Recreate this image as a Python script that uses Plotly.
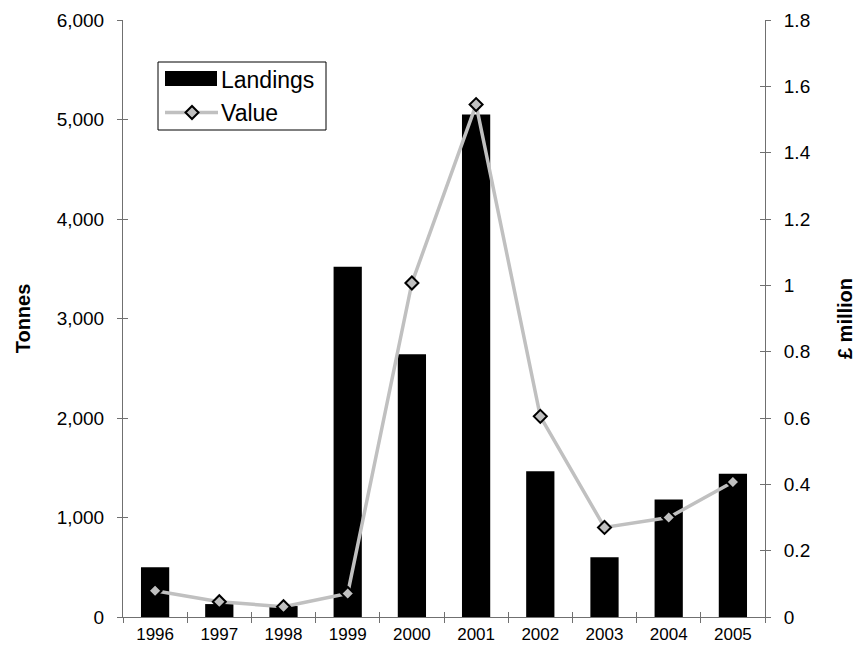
import plotly.graph_objects as go

# Annual landings (tonnes) and first-sale value (£ million)
years = ["1996", "1997", "1998", "1999", "2000", "2001", "2002", "2003", "2004", "2005"]
landings = [500, 130, 110, 3520, 2640, 5050, 1465, 600, 1180, 1440]
value = [0.079, 0.046, 0.031, 0.071, 1.007, 1.545, 0.605, 0.27, 0.30, 0.407]

left_ticks = [0, 1000, 2000, 3000, 4000, 5000, 6000]
right_ticks = [0, 0.2, 0.4, 0.6, 0.8, 1.0, 1.2, 1.4, 1.6, 1.8]

FONT = "Liberation Sans, Arial, sans-serif"
AXIS = "#707070"
GREY = "#c0c0c0"

W, H = 856, 654
L, R, T, B = 123, 91, 20, 37
PW, PH = W - L - R, H - T - B


def px(x, y):
    """Pixel position -> paper coordinates."""
    return (x - L) / PW, (H - B - y) / PH


fig = go.Figure()

fig.add_trace(go.Bar(
    x=years, y=landings, name="Landings", width=0.44,
    marker=dict(color="black", line=dict(width=0)),
    yaxis="y", showlegend=False,
))
fig.add_trace(go.Scatter(
    x=years, y=value, name="Value", mode="lines+markers",
    line=dict(color=GREY, width=3.5),
    marker=dict(symbol="diamond", size=10, color=GREY,
                line=dict(color="black", width=2)),
    yaxis="y2", showlegend=False,
))
# invisible traces carrying the inward half of the crossing tick marks
fig.add_trace(go.Scatter(x=years, y=landings, xaxis="x2", yaxis="y3",
                         mode="markers", marker=dict(opacity=0),
                         hoverinfo="skip", showlegend=False))
fig.add_trace(go.Scatter(x=years, y=value, xaxis="x2", yaxis="y4",
                         mode="markers", marker=dict(opacity=0),
                         hoverinfo="skip", showlegend=False))

tickfont = dict(family=FONT, size=19, color="black")
common_y = dict(showgrid=False, zeroline=False, ticklen=5, tickwidth=1,
                tickcolor=AXIS, tickfont=tickfont, ticklabelstandoff=9,
                automargin=False)

fig.update_layout(
    width=W, height=H,
    margin=dict(l=L, r=R, t=T, b=B),
    paper_bgcolor="white", plot_bgcolor="white",
    font=dict(family=FONT, color="black"),
    xaxis=dict(type="category", categoryorder="array", categoryarray=years,
               range=[-0.5, 9.5], tickson="boundaries", ticks="outside",
               ticklen=5, tickcolor=AXIS, showline=True, linecolor=AXIS,
               linewidth=1, showgrid=False, ticklabelstandoff=2,
               automargin=False,
               tickfont=dict(family=FONT, size=17, color="black")),
    xaxis2=dict(type="category", categoryorder="array", categoryarray=years,
                range=[-0.5, 9.5], overlaying="x", tickson="boundaries",
                ticks="inside", ticklen=5, tickcolor=AXIS, automargin=False,
                showticklabels=False, showline=False, showgrid=False),
    yaxis=dict(range=[0, 6000], tickvals=left_ticks, tickformat=",",
               ticks="outside", showline=True, linecolor=AXIS, linewidth=1,
               title=dict(text="<b>Tonnes</b>",
                          font=dict(family=FONT, size=20), standoff=20),
               **common_y),
    yaxis2=dict(range=[0, 1.8], tickvals=right_ticks, overlaying="y",
                side="right", ticks="outside", showline=True,
                linecolor=AXIS, linewidth=1,
                title=dict(text="<b>£ million</b>",
                           font=dict(family=FONT, size=20), standoff=36),
                **common_y),
    yaxis3=dict(range=[0, 6000], tickvals=left_ticks, overlaying="y",
                side="left", ticks="inside", showticklabels=False,
                showline=False, showgrid=False, zeroline=False,
                ticklen=5, tickcolor=AXIS, automargin=False),
    yaxis4=dict(range=[0, 1.8], tickvals=right_ticks, overlaying="y",
                side="right", ticks="inside", showticklabels=False,
                showline=False, showgrid=False, zeroline=False,
                ticklen=5, tickcolor=AXIS, automargin=False),
)

# Legend box drawn with shapes so the bar swatch is a wide block
x0, y0 = px(158, 62)
x1, y1 = px(326, 130)
fig.add_shape(type="rect", xref="paper", yref="paper", x0=x0, y0=y1, x1=x1, y1=y0,
              line=dict(color="black", width=1), fillcolor="white", layer="above")
sx0, sy0 = px(165, 71)
sx1, sy1 = px(217, 86)
fig.add_shape(type="rect", xref="paper", yref="paper", x0=sx0, y0=sy1, x1=sx1, y1=sy0,
              line=dict(width=0), fillcolor="black", layer="above")
lx0, ly = px(165, 112.5)
lx1, _ = px(218, 112.5)
fig.add_shape(type="line", xref="paper", yref="paper", x0=lx0, y0=ly, x1=lx1, y1=ly,
              line=dict(color=GREY, width=3.5), layer="above")
cx, cy = px(192, 112.5)
dx, dy = 6.5 / PW, 6.5 / PH
fig.add_shape(type="path", xref="paper", yref="paper",
              path=f"M {cx-dx},{cy} L {cx},{cy+dy} L {cx+dx},{cy} L {cx},{cy-dy} Z",
              line=dict(color="black", width=2), fillcolor=GREY, layer="above")
for label, ypix in (("Landings", 80), ("Value", 113)):
    ax, ay = px(219, ypix)
    fig.add_annotation(text=label, xref="paper", yref="paper", x=ax, y=ay,
                       xanchor="left", yanchor="middle", showarrow=False,
                       font=dict(family=FONT, size=23, color="black"))

fig.write_html("out.html")
